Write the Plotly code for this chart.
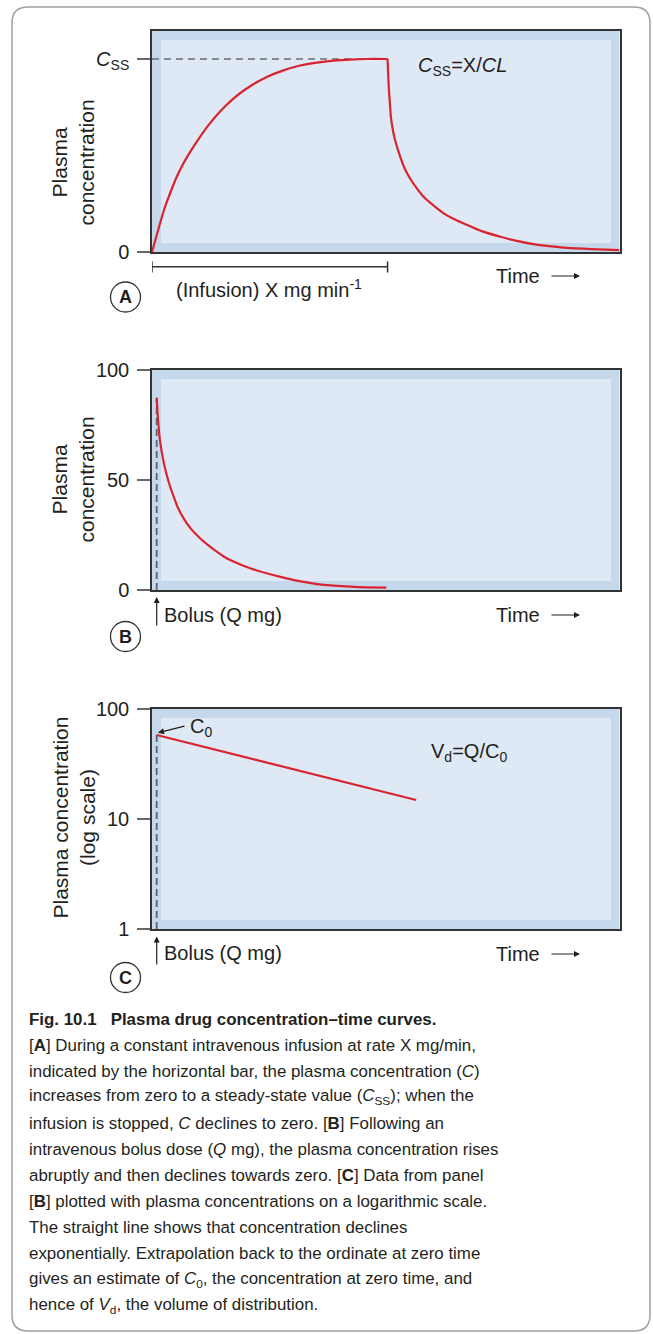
import plotly.graph_objects as go

W, H = 653, 1334

# ---------------- data ----------------
# Panel A: constant infusion (time in arbitrary units 0-100, concentration relative to Css)
t_A_rise = [0, 0.71, 1.71, 2.7, 3.85, 5.2, 6.71, 8.5, 10.28, 12.0, 13.85, 15.6, 17.42, 19.2, 20.99,
            24.56, 28.12, 31.69, 35.26, 38.83, 42.40, 45.97, 50.39]
c_A_rise = [0, 0.062, 0.148, 0.228, 0.303, 0.385, 0.459, 0.532, 0.597, 0.655, 0.709, 0.754, 0.795, 0.829, 0.859,
            0.907, 0.941, 0.966, 0.981, 0.991, 0.997, 1.0, 1.0]
t_A_fall = [50.39, 50.5, 50.68, 50.9, 51.1, 51.5, 52.0, 53.1, 54.1, 55.2, 56.5, 58.1, 60.0, 62.4, 64.8,
            67.4, 70.5, 74.5, 78.0, 81.6, 85.0, 88.8, 94.0, 100.0]
c_A_fall = [1.0, 0.93, 0.838, 0.765, 0.70, 0.635, 0.579, 0.493, 0.43, 0.381, 0.335, 0.286, 0.245, 0.200, 0.168,
            0.140, 0.108, 0.079, 0.058, 0.041, 0.030, 0.021, 0.015, 0.010]
infusion_stop = 50.39
css_value = 1.0

# Panel B: bolus dose, linear scale
t_B = [1.0, 1.2, 1.7, 2.5, 3.15, 3.8, 4.56, 5.5, 6.70, 8.3, 10.28, 12.0, 13.85, 15.5, 17.41, 20.99,
       24.5, 28.12, 31.5, 35.27, 38.8, 42.40, 46.0, 50.11]
c_B = [87.4, 80.0, 68.0, 58.0, 52.3, 47.5, 42.9, 37.6, 32.8, 27.9, 23.5, 20.4, 17.4, 15.0, 12.9, 9.85,
       7.6, 5.6, 4.0, 2.7, 2.0, 1.5, 1.2, 1.05]
bolus_time = 1.0

# Panel C: same data on log scale (straight line)
t_C = [1.0, 56.5]
c_C = [58.0, 14.9]

yticks_B = [0, 50, 100]
yticks_C = [1, 10, 100]

# ---------------- helpers ----------------
def px(x):
    return x / W

def py(y):
    return 1 - y / H

RED = "#d9232e"
TXT = "#231f20"
DARK_BG = "#c6d8ec"
LIGHT_BG = "#dfe9f5"
DASH_COL = "#5a6170"
FONT = "Liberation Sans, Arial, sans-serif"

fig = go.Figure()

X0, X1 = 152, 619.5
panels = {"A": (31, 252), "B": (370, 590), "C": (709, 929)}
red_line = dict(color=RED, width=2.2, shape="spline", smoothing=0.5)

fig.add_trace(go.Scatter(x=[0, infusion_stop], y=[css_value, css_value], mode="lines",
                         line=dict(color="#6b6e73", width=1.5, dash="7px,5px"),
                         xaxis="x", yaxis="y", hoverinfo="skip"))
fig.add_trace(go.Scatter(x=t_A_rise, y=c_A_rise, mode="lines", line=red_line, xaxis="x", yaxis="y"))
fig.add_trace(go.Scatter(x=t_A_fall, y=c_A_fall, mode="lines", line=red_line, xaxis="x", yaxis="y"))

fig.add_trace(go.Scatter(x=[bolus_time, bolus_time], y=[0, c_B[0]], mode="lines",
                         line=dict(color=DASH_COL, width=1.8, dash="7px,4px"),
                         xaxis="x2", yaxis="y2", hoverinfo="skip"))
fig.add_trace(go.Scatter(x=t_B, y=c_B, mode="lines", line=red_line, xaxis="x2", yaxis="y2"))

fig.add_trace(go.Scatter(x=[bolus_time, bolus_time], y=[1, c_C[0]], mode="lines",
                         line=dict(color=DASH_COL, width=1.8, dash="7px,4px"),
                         xaxis="x3", yaxis="y3", hoverinfo="skip"))
fig.add_trace(go.Scatter(x=t_C, y=c_C, mode="lines", line=dict(color=RED, width=2.2),
                         xaxis="x3", yaxis="y3"))

xcommon = dict(range=[0, 100], domain=[px(X0), px(X1)], showgrid=False, zeroline=False,
               showticklabels=False, ticks="", showline=True, mirror=True,
               linecolor="#333333", linewidth=1.5, fixedrange=True, automargin=False)
ycommon = dict(showgrid=False, zeroline=False, showline=True, mirror=True,
               linecolor="#333333", linewidth=1.5, ticks="outside", ticklen=13,
               tickcolor="#666666", tickwidth=1.5, ticklabelstandoff=4, automargin=False,
               tickfont=dict(family=FONT, size=20, color=TXT), fixedrange=True)

top, bot = panels["A"]
layout = dict(
    xaxis=dict(xcommon, anchor="y"),
    yaxis=dict(ycommon, anchor="x", domain=[py(bot), py(top)], range=[0, 1.145],
               tickvals=[0, css_value], ticktext=["0", "<i>C</i><sub>SS</sub>"]),
)
top, bot = panels["B"]
layout["xaxis2"] = dict(xcommon, anchor="y2")
layout["yaxis2"] = dict(ycommon, anchor="x2", domain=[py(bot), py(top)], range=[0, 100],
                        tickvals=yticks_B, ticktext=[str(v) for v in yticks_B])
top, bot = panels["C"]
layout["xaxis3"] = dict(xcommon, anchor="y3")
layout["yaxis3"] = dict(ycommon, anchor="x3", domain=[py(bot), py(top)], type="log", range=[0, 2],
                        tickvals=yticks_C, ticktext=[str(v) for v in yticks_C])
fig.update_layout(**layout)

shapes = []
L, T, R, B, r = 12, 7, 650, 1331, 16
path = (f"M {px(L + r)},{py(T)} L {px(R - r)},{py(T)} Q {px(R)},{py(T)} {px(R)},{py(T + r)} "
        f"L {px(R)},{py(B - r)} Q {px(R)},{py(B)} {px(R - r)},{py(B)} "
        f"L {px(L + r)},{py(B)} Q {px(L)},{py(B)} {px(L)},{py(B - r)} "
        f"L {px(L)},{py(T + r)} Q {px(L)},{py(T)} {px(L + r)},{py(T)} Z")
shapes.append(dict(type="path", path=path, xref="paper", yref="paper",
                   line=dict(color="#a0a0a0", width=1.5), layer="below"))

for key, (top, bot) in panels.items():
    shapes.append(dict(type="rect", xref="paper", yref="paper", x0=px(X0), x1=px(X1),
                       y0=py(bot), y1=py(top), fillcolor=DARK_BG, line=dict(width=0), layer="below"))
    shapes.append(dict(type="rect", xref="paper", yref="paper", x0=px(161), x1=px(611),
                       y0=py(bot - 9), y1=py(top + 9), fillcolor=LIGHT_BG, line=dict(width=0), layer="below"))

bar_y = 266.7
shapes.append(dict(type="line", xref="x", yref="paper", x0=0, x1=infusion_stop, y0=py(bar_y), y1=py(bar_y),
                   line=dict(color="#333333", width=1.5)))
for xv in (0, infusion_stop):
    shapes.append(dict(type="line", xref="x", yref="paper", x0=xv, x1=xv, y0=py(261.5), y1=py(272.5),
                       line=dict(color="#333333", width=1.5)))

circle_c = {"A": 297, "B": 636.5, "C": 977.5}
for key, cy in circle_c.items():
    shapes.append(dict(type="circle", xref="paper", yref="paper", x0=px(110.5), x1=px(140.5),
                       y0=py(cy + 15), y1=py(cy - 15), line=dict(color="#333333", width=1.3)))

fig.update_layout(shapes=shapes)

ann = []
def text(x, y, s, size=20, xanchor="left", yanchor="middle", family=FONT, angle=0, color=TXT):
    ann.append(dict(x=px(x), y=py(y), xref="paper", yref="paper", text=s, showarrow=False,
                    xanchor=xanchor, yanchor=yanchor, textangle=angle,
                    font=dict(family=family, size=size, color=color)))

def arrow(xh, yh, xt, yt):
    ann.append(dict(x=px(xh), y=py(yh), xref="paper", yref="paper", text="", showarrow=True,
                    ax=xt - xh, ay=yt - yh, arrowhead=2, arrowsize=1, arrowwidth=1.2,
                    arrowcolor="#231f20"))

text(72.5, 163, "Plasma<br>concentration", size=21, xanchor="center", angle=-90)
text(72.5, 480, "Plasma<br>concentration", size=21, xanchor="center", angle=-90)
text(73.5, 818, "Plasma concentration<br>(log scale)", size=21, xanchor="center", angle=-90)

text(416, 66, "<i>C</i><sub>SS</sub>=X/<i>CL</i>")
text(268.7, 288, "(Infusion) X mg min<sup>-1</sup>", xanchor="center")

for ty in (276, 615, 954):
    text(494, ty, "Time")
    arrow(580, ty, 550, ty)

for ay_head, ay_tail, ty in ((597, 627, 615), (936.5, 966, 953)):
    arrow(156.7, ay_head, 156.7, ay_tail)
    text(162, ty, "Bolus (Q mg)")

arrow(158, 732.7, 186, 725.7)
text(188, 728, "C<sub>0</sub>")
text(429, 752, "V<sub>d</sub>=Q/C<sub>0</sub>")

for key, cy in circle_c.items():
    text(125.5, cy, f"<b>{key}</b>", size=18, xanchor="center")

cap_lines = [
    "<b>Fig. 10.1\u00a0\u00a0\u00a0Plasma drug concentration\u2013time curves.</b>",
    "[<b>A</b>] During a constant intravenous infusion at rate X mg/min,",
    "indicated by the horizontal bar, the plasma concentration (<i>C</i>)",
    "increases from zero to a steady-state value (<i>C</i><sub>SS</sub>); when the",
    "infusion is stopped, <i>C</i> declines to zero. [<b>B</b>] Following an",
    "intravenous bolus dose (<i>Q</i> mg), the plasma concentration rises",
    "abruptly and then declines towards zero. [<b>C</b>] Data from panel",
    "[<b>B</b>] plotted with plasma concentrations on a logarithmic scale.",
    "The straight line shows that concentration declines",
    "exponentially. Extrapolation back to the ordinate at zero time",
    "gives an estimate of <i>C</i><sub>0</sub>, the concentration at zero time, and",
    "hence of <i>V</i><sub>d</sub>, the volume of distribution.",
]
for i, line in enumerate(cap_lines):
    text(27, 1019 + i * 26.1, line, size=16.9)

fig.update_layout(annotations=ann, width=W, height=H,
                  margin=dict(l=0, r=0, t=0, b=0, pad=0, autoexpand=False),
                  paper_bgcolor="white", plot_bgcolor="rgba(0,0,0,0)", showlegend=False)

fig.write_html("out.html")
